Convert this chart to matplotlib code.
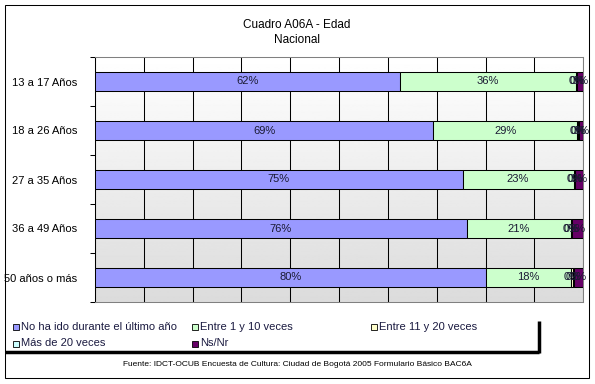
import numpy as np
import matplotlib
matplotlib.use("Agg")
import matplotlib.pyplot as plt
from matplotlib.patches import Rectangle
from matplotlib.lines import Line2D

plt.rcParams['font.family'] = ['Liberation Sans', 'DejaVu Sans']

# Data (percent of each age group)
categories = ["13 a 17 Años", "18 a 26 Años", "27 a 35 Años", "36 a 49 Años", "50 años o más"]
no_ha_ido = [62.4, 69.3, 75.3, 76.1, 80.0]
entre_1_10 = [36.1, 29.4, 22.7, 21.3, 17.5]
entre_11_20 = [0.2, 0.3, 0.3, 0.1, 0.4]
mas_de_20 = [0.1, 0.1, 0.1, 0.1, 0.1]
ns_nr = [1.2, 0.9, 1.6, 2.4, 2.0]

series_labels = ["No ha ido durante el último año", "Entre 1 y 10 veces",
                 "Entre 11 y 20 veces", "Más de 20 veces", "Ns/Nr"]
series_colors = ["#9999FF", "#CCFFCC", "#FFFFCC", "#CCFFFF", "#660066"]
series = [no_ha_ido, entre_1_10, entre_11_20, mas_de_20, ns_nr]

W, H = 595, 384
fig = plt.figure(figsize=(W / 100, H / 100), dpi=100)

# plot area in pixel coords -> figure fraction
left, right, top, bottom = 95, 583.3, 57, 302
ax = fig.add_axes([left / W, 1 - bottom / H, (right - left) / W, (bottom - top) / H])

# gradient background
grad = np.linspace(1.0, 0.86, 256).reshape(-1, 1)
ax.imshow(grad, extent=[0, 1, 0, 1], transform=ax.transAxes, cmap='gray',
          vmin=0, vmax=1, aspect='auto', zorder=0)

y = np.arange(len(categories))
lefts = np.zeros(len(categories))
for vals, col in zip(series, series_colors):
    vals = np.array(vals)
    ax.barh(y, vals, left=lefts, height=0.4, color=col, edgecolor='black',
            linewidth=0.75, zorder=3)
    for yi, (l, v) in enumerate(zip(lefts, vals)):
        ax.text(l + v / 2, yi, f"{v:.0f}%", ha='center', va='center',
                fontsize=8, color='#1a1a33', zorder=4)
    lefts += vals

ax.set_xlim(0, 100)
ax.set_ylim(len(categories) - 0.5, -0.5)
ax.set_xticks(np.arange(0, 101, 10))
ax.tick_params(axis='x', length=0, labelbottom=False)
ax.grid(axis='x', color='black', linewidth=0.75, zorder=1)
ax.set_axisbelow(True)

ax.set_yticks(y)
ax.set_yticklabels(categories, fontsize=8)
ax.tick_params(axis='y', which='major', length=0, pad=13)
ax.set_yticks(np.arange(-0.5, len(categories)), minor=True)
ax.tick_params(axis='y', which='minor', length=3.5, width=0.75, color='black')

for s in ['top', 'right', 'bottom']:
    ax.spines[s].set_color('#808080')
    ax.spines[s].set_linewidth(0.75)
ax.spines['left'].set_color('black')
ax.spines['left'].set_linewidth(0.75)

# titles
fig.text(297 / W, 1 - 25 / H, "Cuadro A06A - Edad", ha='center', va='center', fontsize=8.5)
fig.text(297 / W, 1 - 40 / H, "Nacional", ha='center', va='center', fontsize=8.5)

# legend, laid out like the original (3 columns)
for i, (lab, col) in enumerate(zip(series_labels, series_colors)):
    cx = 13 + (i % 3) * 179
    cy = 327 + (i // 3) * 16.5
    fig.add_artist(Rectangle((cx / W, 1 - (cy + 3) / H), 6 / W, 6 / H,
                             facecolor=col, edgecolor='black', linewidth=0.6,
                             transform=fig.transFigure))
    fig.text((cx + 8) / W, 1 - cy / H, lab, ha='left', va='center',
             fontsize=8, color='#1a1a40')

# legend shadow lines
fig.add_artist(Line2D([5 / W, 539 / W], [1 - 352 / H, 1 - 352 / H], color='black',
                      linewidth=2.5, transform=fig.transFigure, solid_capstyle='butt'))
fig.add_artist(Line2D([539 / W, 539 / W], [1 - 321 / H, 1 - 353 / H], color='black',
                      linewidth=2.5, transform=fig.transFigure, solid_capstyle='butt'))

# source note
fig.text(297 / W, 1 - 365 / H,
         "Fuente: IDCT-OCUB Encuesta de Cultura: Ciudad de Bogotá 2005 Formulario Básico BAC6A",
         ha='center', va='center', fontsize=6)

# outer border
fig.add_artist(Rectangle((5 / W, 1 - 377.5 / H), 584 / W, 372.5 / H, fill=False,
                         edgecolor='black', linewidth=0.75, transform=fig.transFigure))

fig.savefig("out.png", dpi=100)
